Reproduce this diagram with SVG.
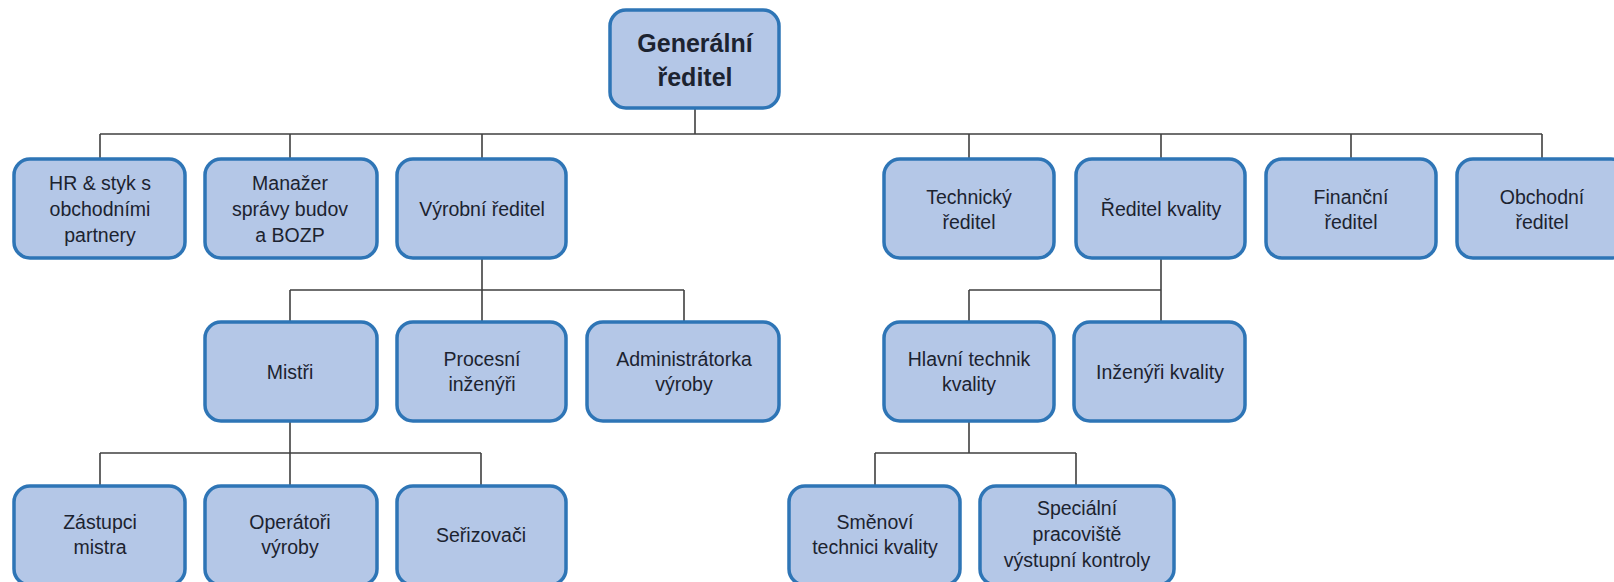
<svg xmlns="http://www.w3.org/2000/svg" width="1614" height="582" viewBox="0 0 1614 582">
<style>
.box{fill:#B4C7E7;stroke:#2E75B6;stroke-width:3.5}
.t{font-family:"Liberation Sans",Arial,sans-serif;font-size:19.5px;fill:#1c2330;text-anchor:middle}
.tb{font-family:"Liberation Sans",Arial,sans-serif;font-size:25px;font-weight:bold;fill:#1c2330;text-anchor:middle}
.c{fill:none;stroke:#404040;stroke-width:1.6}
</style>
<rect width="1614" height="582" fill="#ffffff"/>
<g id="connectors">
<path class="c" d="M695 108V134M100 134H1542M100 134V159M290 134V159M482 134V159M969 134V159M1161 134V159M1351 134V159M1542 134V159"/>
<path class="c" d="M482 258V290M290 290H684M290 290V322M482 290V322M684 290V322"/>
<path class="c" d="M290 421V453M100 453H481M100 453V486M290 453V486M481 453V486"/>
<path class="c" d="M1161 258V290M969 290H1161M969 290V322M1161 290V322"/>
<path class="c" d="M969 421V453M875 453H1076M875 453V486M1076 453V486"/>
</g>
<g id="n-generalni"><rect class="box" x="610" y="10" width="169" height="98" rx="16"/><text class="tb" x="695" y="52">Generální</text><text class="tb" x="695" y="86">ředitel</text></g>
<g id="n-hr"><rect class="box" x="14" y="159" width="171" height="99" rx="16"/><text class="t" x="100" y="190">HR &amp; styk s</text><text class="t" x="100" y="216">obchodními</text><text class="t" x="100" y="242">partnery</text></g>
<g id="n-manazer"><rect class="box" x="205" y="159" width="172" height="99" rx="16"/><text class="t" x="290" y="190">Manažer</text><text class="t" x="290" y="216">správy budov</text><text class="t" x="290" y="242">a BOZP</text></g>
<g id="n-vyrobni"><rect class="box" x="397" y="159" width="169" height="99" rx="16"/><text class="t" x="482" y="216">Výrobní ředitel</text></g>
<g id="n-technicky"><rect class="box" x="884" y="159" width="170" height="99" rx="16"/><text class="t" x="969" y="204">Technický</text><text class="t" x="969" y="229">ředitel</text></g>
<g id="n-kvality"><rect class="box" x="1076" y="159" width="169" height="99" rx="16"/><text class="t" x="1161" y="216">Ředitel kvality</text></g>
<g id="n-financni"><rect class="box" x="1266" y="159" width="170" height="99" rx="16"/><text class="t" x="1351" y="204">Finanční</text><text class="t" x="1351" y="229">ředitel</text></g>
<g id="n-obchodni"><rect class="box" x="1457" y="159" width="170" height="99" rx="16"/><text class="t" x="1542" y="204">Obchodní</text><text class="t" x="1542" y="229">ředitel</text></g>
<g id="n-mistri"><rect class="box" x="205" y="322" width="172" height="99" rx="16"/><text class="t" x="290" y="379">Mistři</text></g>
<g id="n-procesni"><rect class="box" x="397" y="322" width="169" height="99" rx="16"/><text class="t" x="482" y="366">Procesní</text><text class="t" x="482" y="391">inženýři</text></g>
<g id="n-admin"><rect class="box" x="587" y="322" width="192" height="99" rx="16"/><text class="t" x="684" y="366">Administrátorka</text><text class="t" x="684" y="391">výroby</text></g>
<g id="n-hlavni"><rect class="box" x="884" y="322" width="170" height="99" rx="16"/><text class="t" x="969" y="366">Hlavní technik</text><text class="t" x="969" y="391">kvality</text></g>
<g id="n-inzenyri"><rect class="box" x="1074" y="322" width="171" height="99" rx="16"/><text class="t" x="1160" y="379">Inženýři kvality</text></g>
<g id="n-zastupci"><rect class="box" x="14" y="486" width="171" height="99" rx="16"/><text class="t" x="100" y="529">Zástupci</text><text class="t" x="100" y="554">mistra</text></g>
<g id="n-operatori"><rect class="box" x="205" y="486" width="172" height="99" rx="16"/><text class="t" x="290" y="529">Operátoři</text><text class="t" x="290" y="554">výroby</text></g>
<g id="n-serizovaci"><rect class="box" x="397" y="486" width="169" height="99" rx="16"/><text class="t" x="481" y="542">Seřizovači</text></g>
<g id="n-smenovi"><rect class="box" x="789" y="486" width="171" height="99" rx="16"/><text class="t" x="875" y="529">Směnoví</text><text class="t" x="875" y="554">technici kvality</text></g>
<g id="n-specialni"><rect class="box" x="980" y="486" width="194" height="99" rx="16"/><text class="t" x="1077" y="515">Speciální</text><text class="t" x="1077" y="541">pracoviště</text><text class="t" x="1077" y="567">výstupní kontroly</text></g>
</svg>
